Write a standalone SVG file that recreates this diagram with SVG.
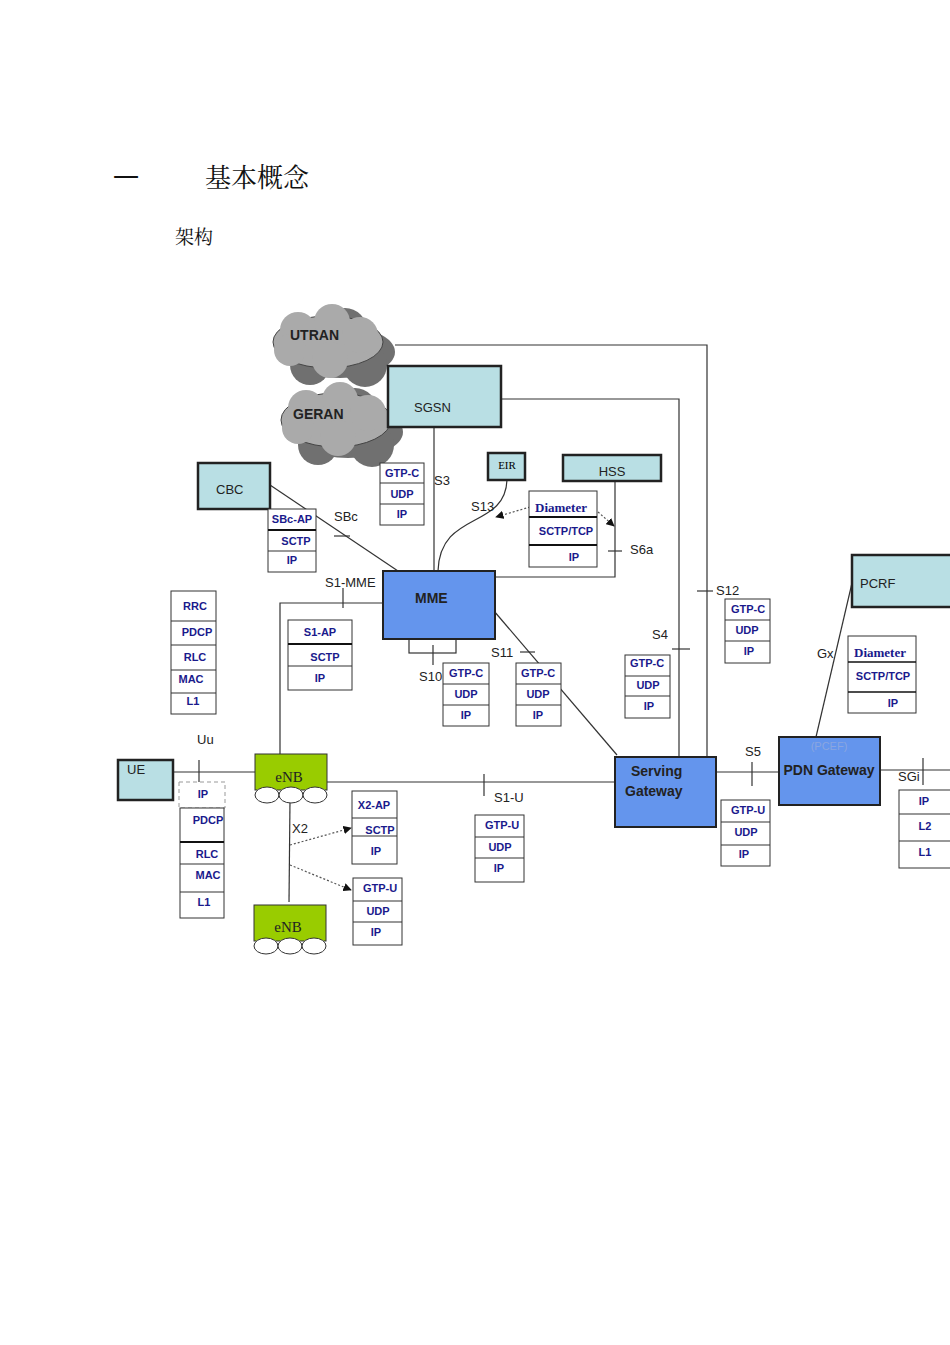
<svg xmlns="http://www.w3.org/2000/svg" width="950" height="1345" viewBox="0 0 950 1345">
<style>
.nd{fill:#b9dfe4;stroke:#222;stroke-width:2.5}
.bl{fill:#6495ed;stroke:#222;stroke-width:2}
.gr{fill:#99cc00;stroke:#333;stroke-width:1}
.st{fill:#fff;stroke:#333;stroke-width:1}
.ln{stroke:#333;stroke-width:1.2;fill:none}
.dt{stroke:#555;stroke-width:1.2;stroke-dasharray:2 2;fill:none}
.p{font-family:"Liberation Sans",Arial,sans-serif;font-size:11px;font-weight:bold;fill:#1a1a8c;text-anchor:middle}
.l{font-family:"Liberation Sans",Arial,sans-serif;font-size:13px;fill:#222}
.s{font-family:"Liberation Serif",serif;font-size:13px;font-weight:bold;fill:#1a1a8c;text-anchor:middle}
.cl{font-family:"Liberation Sans",Arial,sans-serif;font-size:14px;font-weight:bold;fill:#222}
.cs{fill:#707070}
.cf{fill:#aaa;stroke:#444;stroke-width:1}
</style>
<defs><marker id="ar" viewBox="0 0 10 10" refX="9" refY="5" markerWidth="7" markerHeight="7" orient="auto"><path d="M0,0L10,5L0,10z" fill="#111"/></marker></defs>
<rect width="950" height="1345" fill="#fff"/>
<text x="113" y="187" font-family="Noto Sans CJK SC,serif" font-size="26" fill="#111">一</text>
<text x="205" y="187" font-family="Noto Serif CJK SC,Noto Sans CJK SC,serif" font-size="26" fill="#111">基本概念</text>
<text x="175" y="244" font-family="Noto Serif CJK SC,Noto Sans CJK SC,serif" font-size="19" fill="#111">架构</text>

<g id="connectors">
<polyline class="ln" points="395,345 707,345 707,757"/>
<polyline class="ln" points="501,399 679,399 679,757"/>
<line class="ln" x1="434" y1="427" x2="434" y2="572"/>
<path class="ln" d="M507,480 C505,530 440,510 438,571"/>
<line class="dt" x1="530" y1="507" x2="496" y2="517" marker-end="url(#ar)"/>
<polyline class="ln" points="615,481 615,577 495,577"/>
<line class="dt" x1="598" y1="512" x2="614" y2="526" marker-end="url(#ar)"/>
<line class="ln" x1="608" y1="551" x2="622" y2="551"/>
<line class="ln" x1="270" y1="485" x2="398" y2="571"/>
<line class="ln" x1="334" y1="536" x2="350" y2="536"/>
<polyline class="ln" points="383,603 280,603 280,754"/>
<line class="ln" x1="343" y1="588" x2="343" y2="608"/>
<rect class="ln" x="409" y="639" width="47" height="14"/>
<line class="ln" x1="433" y1="645" x2="433" y2="665"/>
<line class="ln" x1="488" y1="604" x2="617" y2="755"/>
<line class="ln" x1="520" y1="652" x2="535" y2="652"/>
<line class="ln" x1="173" y1="772" x2="255" y2="772"/>
<line class="ln" x1="199" y1="760" x2="199" y2="782"/>
<line class="ln" x1="290" y1="800" x2="289" y2="902"/>
<line class="dt" x1="290" y1="845" x2="351" y2="828" marker-end="url(#ar)"/>
<line class="dt" x1="290" y1="865" x2="351" y2="890" marker-end="url(#ar)"/>
<line class="ln" x1="327" y1="782" x2="615" y2="782"/>
<line class="ln" x1="484" y1="774" x2="484" y2="796"/>
<line class="ln" x1="672" y1="649" x2="690" y2="649"/>
<line class="ln" x1="697" y1="591" x2="713" y2="591"/>
<line class="ln" x1="716" y1="772" x2="779" y2="772"/>
<line class="ln" x1="752" y1="762" x2="752" y2="786"/>
<line class="ln" x1="816" y1="737" x2="852" y2="583"/>
<line class="ln" x1="880" y1="770" x2="950" y2="770"/>
<line class="ln" x1="923" y1="758" x2="923" y2="785"/>
</g>
<g id="labels">
<text class="l" x="434" y="485">S3</text>
<text class="l" x="471" y="511" font-size="12">S13</text>
<text class="l" x="630" y="554" font-size="11">S6a</text>
<text class="l" x="334" y="521">SBc</text>
<text class="l" x="325" y="587" font-size="11">S1-MME</text>
<text class="l" x="419" y="681">S10</text>
<text class="l" x="491" y="657">S11</text>
<text class="l" x="197" y="744">Uu</text>
<text class="l" x="292" y="833" font-family="Liberation Serif,serif" font-size="15">X2</text>
<text class="l" x="494" y="802">S1-U</text>
<text class="l" x="652" y="639">S4</text>
<text class="l" x="716" y="595">S12</text>
<text class="l" x="745" y="756">S5</text>
<text class="l" x="817" y="658">Gx</text>
<text class="l" x="898" y="781">SGi</text>
</g>

<g id="UTRAN">
<g class="cs"><ellipse cx="340" cy="352" rx="55" ry="26"/><circle cx="310" cy="365" r="20"/><circle cx="365" cy="365" r="22"/><circle cx="345" cy="330" r="22"/></g>
<g class="cf"><ellipse cx="328" cy="342" rx="55" ry="26"/></g>
<g fill="#aaa"><circle cx="298" cy="330" r="18"/><circle cx="332" cy="322" r="18"/><circle cx="360" cy="335" r="18"/><circle cx="290" cy="350" r="16"/><circle cx="330" cy="360" r="18"/></g>
<text class="cl" x="290" y="340">UTRAN</text>
</g>
<g id="GERAN">
<g class="cs"><ellipse cx="348" cy="432" rx="55" ry="26"/><circle cx="318" cy="445" r="20"/><circle cx="372" cy="445" r="22"/><circle cx="355" cy="410" r="22"/></g>
<g class="cf"><ellipse cx="336" cy="420" rx="55" ry="27"/></g>
<g fill="#aaa"><circle cx="306" cy="408" r="18"/><circle cx="340" cy="400" r="18"/><circle cx="368" cy="413" r="18"/><circle cx="298" cy="428" r="16"/><circle cx="338" cy="438" r="18"/></g>
<text class="cl" x="293" y="419">GERAN</text>
</g>
<g id="SGSN"><rect class="nd" x="388" y="366" width="113" height="61"/><text class="l" x="414" y="412" font-size="14">SGSN</text></g>
<g id="EIR"><rect class="nd" x="488" y="453" width="37" height="27"/><text x="507" y="469" font-family="Liberation Serif,serif" font-size="11" text-anchor="middle">EIR</text></g>
<g id="HSS"><rect class="nd" x="563" y="455" width="98" height="26"/><text class="l" x="612" y="476" font-size="14" text-anchor="middle">HSS</text></g>
<g id="CBC"><rect class="nd" x="198" y="463" width="72" height="46"/><text class="l" x="216" y="494" font-size="14">CBC</text></g>
<g id="MME"><rect class="bl" x="383" y="571" width="112" height="68"/><text class="cl" x="415" y="603" fill="#0a1a50">MME</text></g>
<g id="UE"><rect class="nd" x="118" y="760" width="55" height="40"/><text class="l" x="127" y="774" font-size="14">UE</text></g>
<g id="eNB1"><rect class="gr" x="255" y="754" width="72" height="36"/><g class="st"><ellipse cx="267" cy="795" rx="12" ry="8"/><ellipse cx="291" cy="795" rx="12" ry="8"/><ellipse cx="315" cy="795" rx="12" ry="8"/></g><text x="289" y="782" font-family="Liberation Serif,serif" font-size="15" text-anchor="middle" fill="#222">eNB</text></g>
<g id="eNB2"><rect class="gr" x="254" y="905" width="72" height="36"/><g class="st"><ellipse cx="266" cy="946" rx="12" ry="8"/><ellipse cx="290" cy="946" rx="12" ry="8"/><ellipse cx="314" cy="946" rx="12" ry="8"/></g><text x="288" y="932" font-family="Liberation Serif,serif" font-size="15" text-anchor="middle" fill="#222">eNB</text></g>
<g id="SGW"><rect class="bl" x="615" y="757" width="101" height="70"/><text class="cl" x="631" y="776" font-size="13" fill="#0a1a50">Serving</text><text class="cl" x="625" y="796" font-size="13" fill="#0a1a50">Gateway</text></g>
<g id="PGW"><rect class="bl" x="779" y="737" width="101" height="68"/><text x="829" y="750" font-family="Liberation Sans,sans-serif" font-size="11" fill="#8aa6e0" text-anchor="middle">(PCEF)</text><text class="cl" x="829" y="775" font-size="13" fill="#0a1a50" text-anchor="middle">PDN Gateway</text></g>
<g id="PCRF"><rect class="nd" x="852" y="555" width="105" height="52"/><text class="l" x="860" y="588" font-size="14">PCRF</text></g>

<g id="stack-sgsn"><rect class="st" x="380" y="463" width="44" height="62"/><line class="ln" x1="380" y1="483" x2="424" y2="483"/><line class="ln" x1="380" y1="504" x2="424" y2="504"/><text class="p" x="402" y="477">GTP-C</text><text class="p" x="402" y="498">UDP</text><text class="p" x="402" y="518">IP</text></g>
<g id="stack-s6a"><rect class="st" x="529" y="491" width="68" height="76"/><line x1="529" y1="517" x2="597" y2="517" stroke="#111" stroke-width="2"/><line x1="529" y1="545" x2="597" y2="545" stroke="#111" stroke-width="2"/><text class="s" x="561" y="512">Diameter</text><text class="p" x="566" y="535">SCTP/TCP</text><text class="p" x="574" y="561">IP</text></g>
<g id="stack-sbc"><rect class="st" x="268" y="509" width="48" height="63"/><line x1="268" y1="530" x2="316" y2="530" stroke="#111" stroke-width="2"/><line class="ln" x1="268" y1="551" x2="316" y2="551"/><text class="p" x="292" y="523">SBc-AP</text><text class="p" x="296" y="545">SCTP</text><text class="p" x="292" y="564">IP</text></g>
<g id="stack-radio"><rect class="st" x="171" y="591" width="45" height="123"/><line class="ln" x1="171" y1="621" x2="216" y2="621"/><line class="ln" x1="171" y1="645" x2="216" y2="645"/><line class="ln" x1="171" y1="670" x2="216" y2="670"/><line class="ln" x1="171" y1="693" x2="216" y2="693"/><text class="p" x="195" y="610">RRC</text><text class="p" x="197" y="636">PDCP</text><text class="p" x="195" y="661">RLC</text><text class="p" x="191" y="683">MAC</text><text class="p" x="193" y="705">L1</text></g>
<g id="stack-s1ap"><rect class="st" x="288" y="620" width="64" height="70"/><line x1="288" y1="644" x2="352" y2="644" stroke="#111" stroke-width="2"/><line class="ln" x1="288" y1="666" x2="352" y2="666"/><text class="p" x="320" y="636" font-size="14">S1-AP</text><text class="p" x="325" y="661" font-size="14">SCTP</text><text class="p" x="320" y="682" font-size="14">IP</text></g>
<g id="stack-s10"><rect class="st" x="443" y="663" width="46" height="63"/><line class="ln" x1="443" y1="684" x2="489" y2="684"/><line class="ln" x1="443" y1="705" x2="489" y2="705"/><text class="p" x="466" y="677">GTP-C</text><text class="p" x="466" y="698">UDP</text><text class="p" x="466" y="719">IP</text></g>
<g id="stack-s11"><rect class="st" x="516" y="663" width="45" height="63"/><line class="ln" x1="516" y1="684" x2="561" y2="684"/><line class="ln" x1="516" y1="705" x2="561" y2="705"/><text class="p" x="538" y="677">GTP-C</text><text class="p" x="538" y="698">UDP</text><text class="p" x="538" y="719">IP</text></g>
<g id="stack-uu"><rect x="179" y="782" width="46" height="26" fill="#fff" stroke="#999" stroke-dasharray="4 3"/><text class="p" x="203" y="798" fill="#999" font-size="10">IP</text><rect class="st" x="180" y="808" width="44" height="110"/><line x1="180" y1="842" x2="224" y2="842" stroke="#111" stroke-width="2"/><line class="ln" x1="180" y1="864" x2="224" y2="864"/><line class="ln" x1="180" y1="892" x2="224" y2="892"/><text class="p" x="208" y="824">PDCP</text><text class="p" x="207" y="858">RLC</text><text class="p" x="208" y="879">MAC</text><text class="p" x="204" y="906">L1</text></g>
<g id="stack-x2ap"><rect class="st" x="352" y="791" width="45" height="73"/><line class="ln" x1="352" y1="818" x2="397" y2="818"/><line class="ln" x1="352" y1="836" x2="397" y2="836"/><text class="p" x="374" y="809" font-size="14">X2-AP</text><text class="p" x="380" y="834" font-size="14">SCTP</text><text class="p" x="376" y="855" font-size="14">IP</text></g>
<g id="stack-x2u"><rect class="st" x="353" y="878" width="49" height="67"/><line class="ln" x1="353" y1="901" x2="402" y2="901"/><line class="ln" x1="353" y1="922" x2="402" y2="922"/><text class="p" x="380" y="892">GTP-U</text><text class="p" x="378" y="915">UDP</text><text class="p" x="376" y="936">IP</text></g>
<g id="stack-s1u"><rect class="st" x="475" y="815" width="49" height="67"/><line class="ln" x1="475" y1="837" x2="524" y2="837"/><line class="ln" x1="475" y1="858" x2="524" y2="858"/><text class="p" x="502" y="829">GTP-U</text><text class="p" x="500" y="851">UDP</text><text class="p" x="499" y="872">IP</text></g>
<g id="stack-s4"><rect class="st" x="625" y="655" width="45" height="63"/><line class="ln" x1="625" y1="676" x2="670" y2="676"/><line class="ln" x1="625" y1="696" x2="670" y2="696"/><text class="p" x="647" y="667">GTP-C</text><text class="p" x="648" y="689">UDP</text><text class="p" x="649" y="710">IP</text></g>
<g id="stack-s12"><rect class="st" x="725" y="599" width="45" height="64"/><line class="ln" x1="725" y1="620" x2="770" y2="620"/><line class="ln" x1="725" y1="641" x2="770" y2="641"/><text class="p" x="748" y="613">GTP-C</text><text class="p" x="747" y="634">UDP</text><text class="p" x="749" y="655">IP</text></g>
<g id="stack-s5"><rect class="st" x="721" y="800" width="49" height="66"/><line class="ln" x1="721" y1="822" x2="770" y2="822"/><line class="ln" x1="721" y1="845" x2="770" y2="845"/><text class="p" x="748" y="814">GTP-U</text><text class="p" x="746" y="836">UDP</text><text class="p" x="744" y="858">IP</text></g>
<g id="stack-gx"><rect class="st" x="848" y="636" width="68" height="77"/><line x1="848" y1="662" x2="916" y2="662" stroke="#111" stroke-width="1.5"/><line x1="848" y1="692" x2="916" y2="692" stroke="#111" stroke-width="1.5"/><text class="s" x="880" y="657">Diameter</text><text class="p" x="883" y="680">SCTP/TCP</text><text class="p" x="893" y="707">IP</text></g>
<g id="stack-sgi"><rect class="st" x="899" y="790" width="60" height="78"/><line class="ln" x1="899" y1="814" x2="959" y2="814"/><line class="ln" x1="899" y1="841" x2="959" y2="841"/><text class="p" x="924" y="805">IP</text><text class="p" x="925" y="830">L2</text><text class="p" x="925" y="856">L1</text></g>
</svg>
